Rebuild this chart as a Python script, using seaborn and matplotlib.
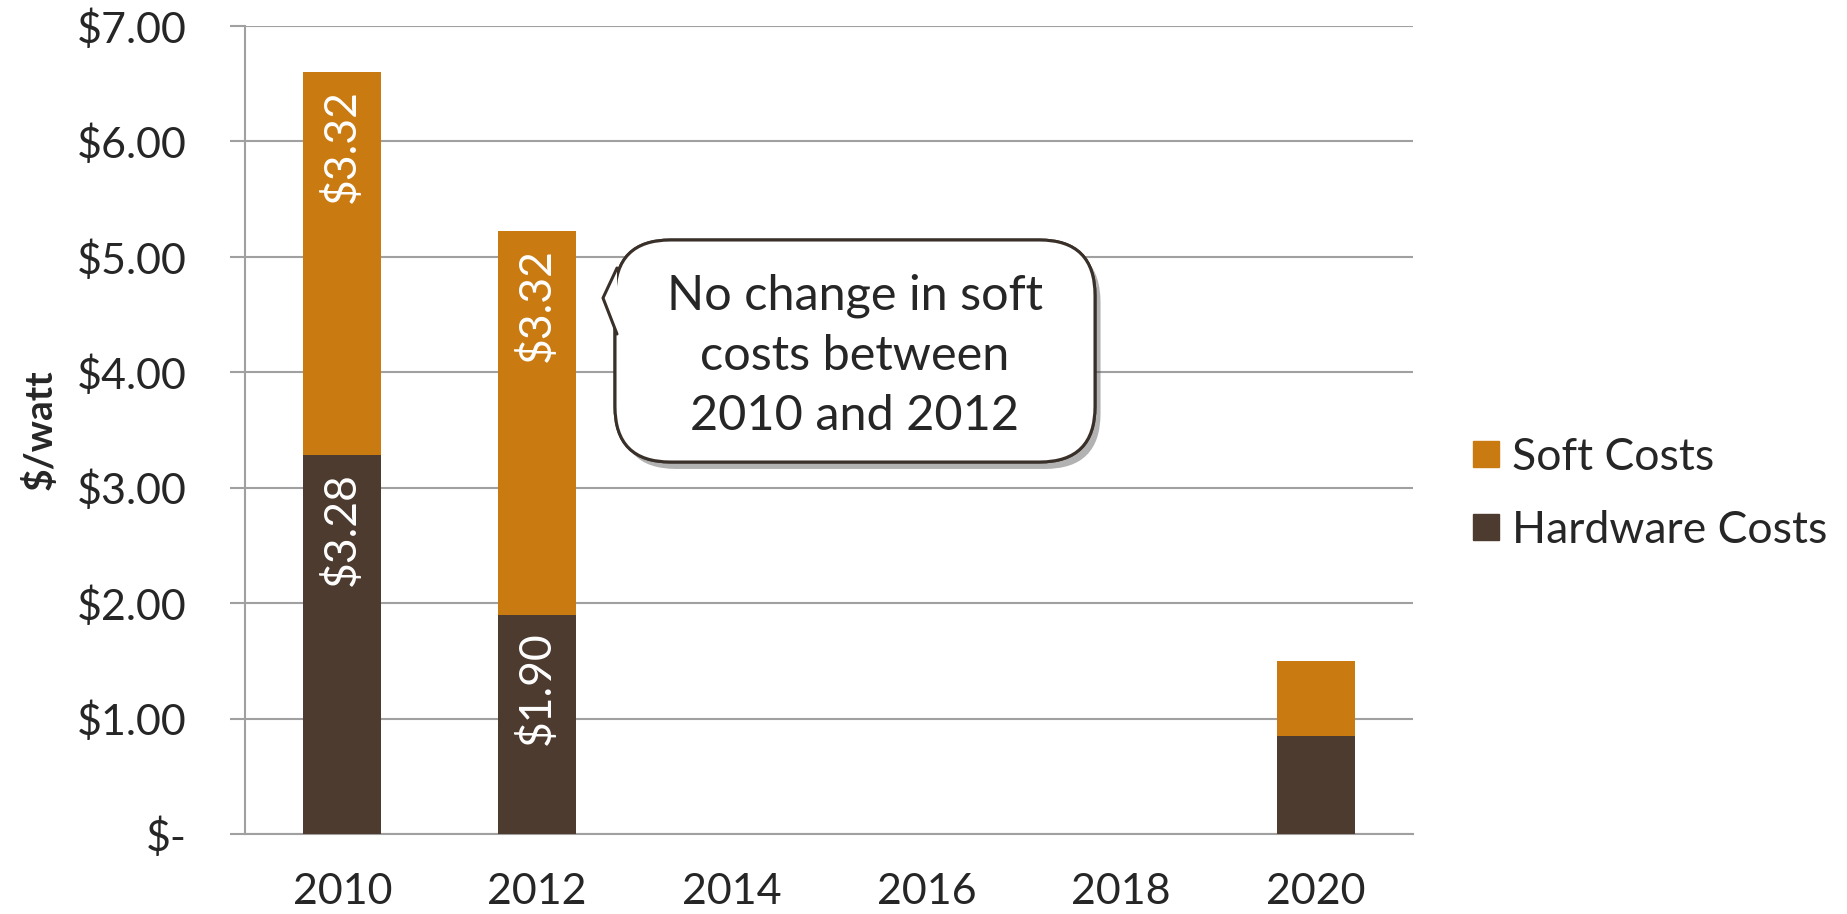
import numpy as np
import pandas as pd
import matplotlib.pyplot as plt
import seaborn as sns
from matplotlib.lines import Line2D
from matplotlib.patches import FancyBboxPatch, Polygon
from matplotlib import patheffects

years = ['2010', '2012', '2014', '2016', '2018', '2020']
bar_years = ['2010', '2012', '2020']
hardware = [3.28, 1.90, 0.85]
soft = [3.32, 3.32, 0.65]
hardware_labels = ['$3.28', '$1.90', None]
soft_labels = ['$3.32', '$3.32', None]
y_ticks = [0, 1, 2, 3, 4, 5, 6, 7]
y_ticklabels = ['$-', '$1.00', '$2.00', '$3.00', '$4.00', '$5.00', '$6.00', '$7.00']
note = 'No change in soft\ncosts between\n2010 and 2012'

soft_color = '#C97B12'
hard_color = '#4D3B2F'
grid_color = '#A0A0A0'

sns.set_style('white')
plt.rcParams['font.family'] = ['Lato', 'DejaVu Sans']

df = pd.DataFrame({'year': bar_years, 'hardware': hardware, 'soft': soft})
df['total'] = df['hardware'] + df['soft']

W, H = 1847, 914
fig = plt.figure(figsize=(W / 100, H / 100), dpi=100)
ax = fig.add_axes([245 / W, 1 - 834 / H, (1413 - 245) / W, (834 - 26) / H])

sns.barplot(data=df, x='year', y='total', order=years, color=soft_color, linewidth=0,
            saturation=1, width=0.4, errorbar=None, ax=ax, zorder=3)
sns.barplot(data=df, x='year', y='hardware', order=years, color=hard_color, linewidth=0,
            saturation=1, width=0.4, errorbar=None, ax=ax, zorder=3)

# value labels at the inside end of each segment
for i, yr in enumerate(bar_years):
    xpos = years.index(yr)
    if soft_labels[i]:
        ax.annotate(soft_labels[i], (xpos, df['total'][i]), xytext=(0, -12),
                    textcoords='offset points', rotation=90, ha='center', va='top',
                    color='white', fontsize=32, zorder=4)
    if hardware_labels[i]:
        ax.annotate(hardware_labels[i], (xpos, hardware[i]), xytext=(0, -12),
                    textcoords='offset points', rotation=90, ha='center', va='top',
                    color='white', fontsize=32, zorder=4)

ax.set_xlim(-0.5, len(years) - 0.5)
ax.set_ylim(0, 7)
ax.set_yticks(y_ticks)
ax.set_yticklabels(y_ticklabels)
ax.yaxis.grid(True, color=grid_color, linewidth=1.5, zorder=0)
ax.set_axisbelow(True)
ax.set_xlabel('')
ax.set_ylabel('$/watt', fontsize=28, fontweight='bold', labelpad=14)

ax.set_xticks(np.arange(-0.5, len(years)), minor=True)
ax.tick_params(axis='x', which='major', length=0, pad=28, labelsize=31)
ax.tick_params(axis='x', which='minor', length=11.5, width=1.5, color=grid_color, direction='out')
ax.tick_params(axis='y', which='major', length=11, width=1.5, color=grid_color, pad=31,
               labelsize=31, left=True)

for side in ['top', 'right']:
    ax.spines[side].set_visible(False)
for side in ['left', 'bottom']:
    ax.spines[side].set_color(grid_color)
    ax.spines[side].set_linewidth(1.5)

# legend
handles = [Line2D([], [], marker='s', linestyle='', markersize=19, color=soft_color),
           Line2D([], [], marker='s', linestyle='', markersize=19, color=hard_color)]
fig.legend(handles, ['Soft Costs', 'Hardware Costs'], loc='center left',
           bbox_to_anchor=(1450 / W, 1 - 494 / H), frameon=False, fontsize=32,
           handlelength=0.6, handletextpad=0.3, labelspacing=0.72, borderpad=0)

# callout
def fx(px):
    return px / W


def fy(py):
    return 1 - py / H


box = FancyBboxPatch((fx(615), fy(462)), fx(1095) - fx(615), fy(240) - fy(462),
                     boxstyle='round,pad=0,rounding_size=0.03', transform=fig.transFigure,
                     facecolor='white', edgecolor='#3A302A', linewidth=2.2, zorder=5,
                     mutation_aspect=W / H)
box.set_path_effects([patheffects.withSimplePatchShadow(offset=(4, -5), shadow_rgbFace='#555555', alpha=0.45),
                      patheffects.Normal()])
fig.add_artist(box)
ptr = [(fx(617), fy(268)), (fx(603), fy(298)), (fx(617), fy(334))]
fig.add_artist(Polygon(ptr, closed=True, transform=fig.transFigure, facecolor='white',
                       edgecolor='none', zorder=6))
fig.add_artist(Line2D([p[0] for p in ptr], [p[1] for p in ptr], transform=fig.transFigure,
                      color='#3A302A', linewidth=2.2, zorder=7))
fig.text(fx(855), fy(356), note, ha='center', va='center', fontsize=35,
         linespacing=1.45, zorder=8)

fig.savefig('out.png', dpi=100)
